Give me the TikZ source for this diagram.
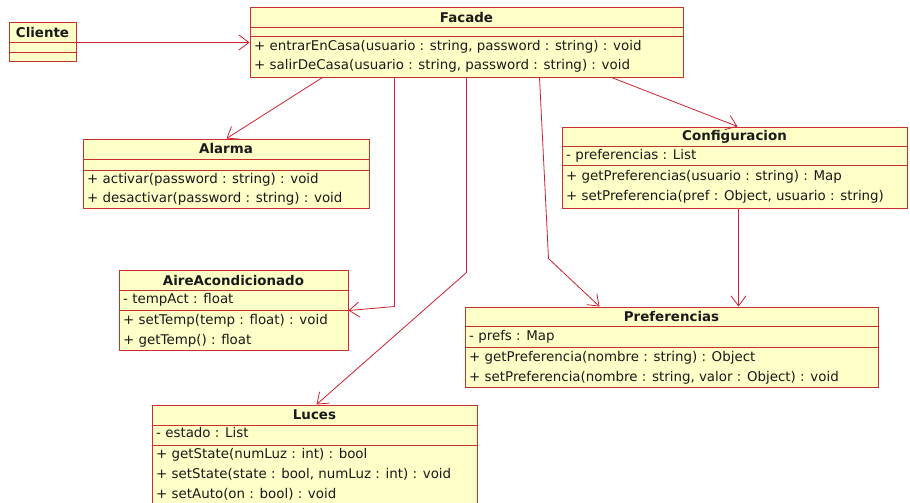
\documentclass[tikz,border=0pt]{standalone}
\usepackage{fontspec}
\setmainfont{DejaVu Sans}
\usetikzlibrary{positioning,arrows.meta,fit}
\definecolor{boxYellow}{HTML}{FFFFC8}
\definecolor{boxRed}{HTML}{C8302C}
\definecolor{linkRed}{HTML}{CC2233}
\definecolor{inkDark}{HTML}{1A1A1A}
\tikzset{
    classbox/.style={draw=boxRed,fill=boxYellow,line width=1pt,inner sep=0pt},
    compart/.style={draw=boxRed,line width=1pt},
    classname/.style={font=\fontsize{13.4}{16}\selectfont\bfseries,text=inkDark,inner sep=0pt},
    member/.style={font=\fontsize{13.4}{16}\selectfont,text=inkDark,anchor=west,inner sep=0pt,
        text height=10pt,text depth=3pt},
    assoc/.style={-{Straight Barb[length=10pt,width=15pt]},draw=linkRed,line width=0.8pt}
}
\begin{document}
\begin{tikzpicture}[x=1pt,y=-1pt]
    \clip (0,0) rectangle (910,503);
    \fill[white] (0,0) rectangle (910,503);

    % Cliente
    \node[classbox,fit={(9,23) (76,62)}] (cliente) {};
    \draw[compart] (9,43) -- (76,43);
    \draw[compart] (9,53) -- (76,53);
    \node[classname] (clienteName) at (42.5,33) {Cliente};

    % Facade
    \node[classbox,fit={(250,8) (683,77)}] (facade) {};
    \draw[compart] (250,28) -- (683,28);
    \draw[compart] (250,37) -- (683,37);
    \node[classname] (facadeName) at (466.5,18) {Facade};
    \node[member] (facadeOp1) at (254,47) {+ entrarEnCasa(usuario : string, password : string) : void};
    \node[member] (facadeOp2) at (254,66) {+ salirDeCasa(usuario : string, password : string) : void};

    % Alarma
    \node[classbox,fit={(83,139) (369,208)}] (alarma) {};
    \draw[compart] (83,159) -- (369,159);
    \draw[compart] (83,170) -- (369,170);
    \node[classname] (alarmaName) at (226,149) {Alarma};
    \node[member] (alarmaOp1) at (87,180) {+ activar(password : string) : void};
    \node[member] (alarmaOp2) at (87,199) {+ desactivar(password : string) : void};

    % Configuracion
    \node[classbox,fit={(562,127) (907,208)}] (config) {};
    \draw[compart] (562,146) -- (907,146);
    \draw[compart] (562,165) -- (907,165);
    \node[classname] (configName) at (734.5,137) {Configuracion};
    \node[member] (configAt1) at (566,156) {- preferencias : List};
    \node[member] (configOp1) at (566,177) {+ getPreferencias(usuario : string) : Map};
    \node[member] (configOp2) at (566,197) {+ setPreferencia(pref : Object, usuario : string)};

    % AireAcondicionado
    \node[classbox,fit={(119,270) (348,350)}] (aire) {};
    \draw[compart] (119,290) -- (348,290);
    \draw[compart] (119,310) -- (348,310);
    \node[classname] (aireName) at (233.5,281) {AireAcondicionado};
    \node[member] (aireAt1) at (123,300) {- tempAct : float};
    \node[member] (aireOp1) at (123,321) {+ setTemp(temp : float) : void};
    \node[member] (aireOp2) at (123,341) {+ getTemp() : float};

    % Preferencias
    \node[classbox,fit={(465,307) (878,387)}] (prefs) {};
    \draw[compart] (465,326) -- (878,326);
    \draw[compart] (465,347) -- (878,347);
    \node[classname] (prefsName) at (671.5,317) {Preferencias};
    \node[member] (prefsAt1) at (469,337) {- prefs : Map};
    \node[member] (prefsOp1) at (469,358) {+ getPreferencia(nombre : string) : Object};
    \node[member] (prefsOp2) at (469,378) {+ setPreferencia(nombre : string, valor : Object) : void};

    % Luces
    \node[classbox,fit={(152,405) (477,515)}] (luces) {};
    \draw[compart] (152,425) -- (477,425);
    \draw[compart] (152,445) -- (477,445);
    \node[classname] (lucesName) at (314.5,415) {Luces};
    \node[member] (lucesAt1) at (156,434) {- estado : List};
    \node[member] (lucesOp1) at (156,455) {+ getState(numLuz : int) : bool};
    \node[member] (lucesOp2) at (156,475) {+ setState(state : bool, numLuz : int) : void};
    \node[member] (lucesOp3) at (156,495) {+ setAuto(on : bool) : void};

    % associations
    \draw[assoc] (cliente.east) -- (cliente.east -| facade.west);
    \draw[assoc] ([xshift=73pt]facade.south west) -- ([xshift=144pt]alarma.north west);
    \draw[assoc] ([xshift=145pt]facade.south west) -- ++(0,229) -- ([yshift=-41pt]aire.north east);
    \draw[assoc] ([xshift=217pt]facade.south west) -- ++(0,195) -- ([xshift=165pt]luces.north west);
    \draw[assoc] ([xshift=290pt]facade.south west) -- ++(9,181) -- ([xshift=135pt]prefs.north west);
    \draw[assoc] ([xshift=362pt]facade.south west) -- ([xshift=176pt]config.north west);
    \draw[assoc] ([xshift=177pt]config.south west) -- ([xshift=274pt]prefs.north west);
\end{tikzpicture}
\end{document}
